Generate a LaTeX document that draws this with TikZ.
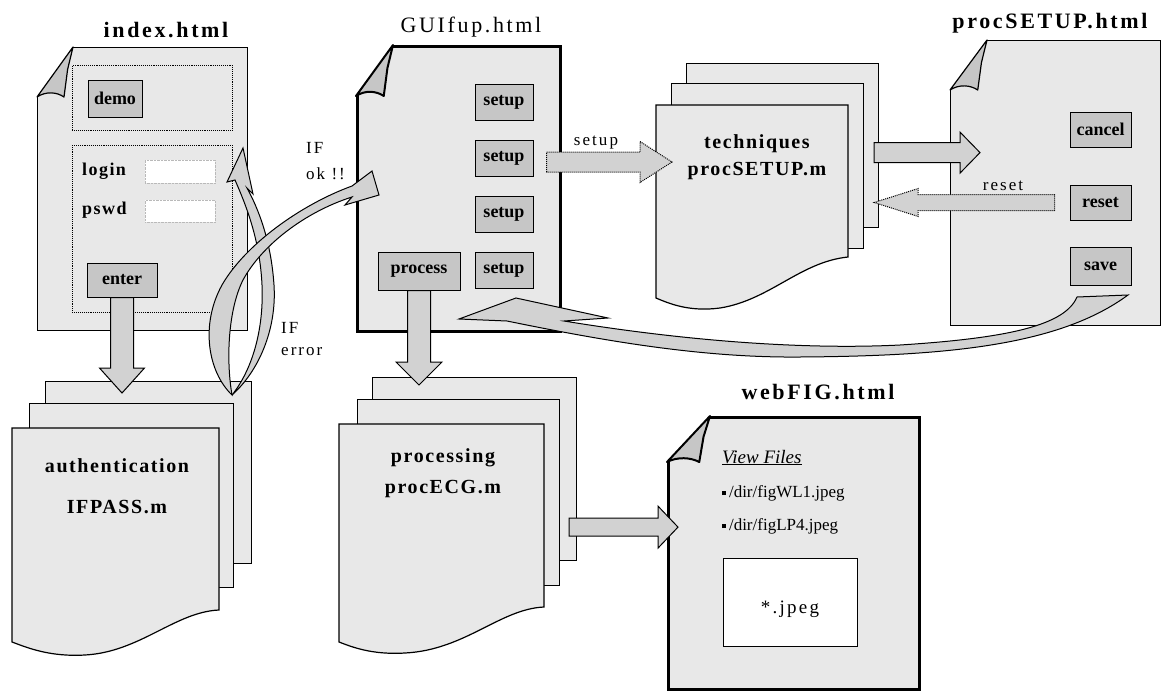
\documentclass[tikz,border=0pt]{standalone}
\usepackage{fontspec}
\setmainfont{Liberation Serif}
\newfontfamily\spacedfont[LetterSpace=12]{Liberation Serif}
\newfontfamily\wordfont[LetterSpace=8]{Liberation Serif}
\usetikzlibrary{calc}
\tikzset{
  sheet/.style={draw,line width=1.2pt,fill=gray!18},
  htmlpage/.style={sheet,rectangle,inner sep=0pt,anchor=north west},
  heavypage/.style={htmlpage,line width=3pt},
  fold/.style={draw,line width=1.2pt,fill=gray!45,line join=round},
  btn/.style={draw,line width=1pt,fill=gray!45,inner sep=0pt,font=\bfseries\fontsize{18}{20}\selectfont,minimum width=58pt,minimum height=36pt},
  field/.style={draw=gray!55,densely dotted,fill=white,inner sep=0pt,anchor=north west},
  zone/.style={draw,densely dotted,line width=0.9pt,inner sep=0pt,anchor=north west},
  fieldname/.style={font=\wordfont\bfseries\fontsize{18}{20}\selectfont,inner sep=0pt,anchor=base west},
  pagetitle/.style={font=\spacedfont\bfseries\fontsize{22}{26}\selectfont,inner sep=0pt,anchor=base},
  doctext/.style={font=\wordfont\bfseries\fontsize{20}{24}\selectfont,inner sep=0pt,anchor=base},
  lbl/.style={font=\spacedfont\fontsize{17}{24}\selectfont,inner sep=0pt,align=left},
  filetext/.style={font=\fontsize{17}{20}\selectfont,inner sep=0pt,anchor=base west},
  blk/.style={draw,line width=1pt,fill=gray!35,line join=miter},
  dblk/.style={blk,densely dotted},
}
% block arrow between two points: [style]{from}{to}{shaft half}{head half}{head length}
\newcommand\blockarrow[6][]{%
  \filldraw[blk,#1] let \p1=#2, \p2=#3,
      \n1={atan2(\y2-\y1,\x2-\x1)}, \n2={veclen(\x2-\x1,\y2-\y1)} in
    ($(\p1)+(\n1+90:#4)$) -- ++(\n1:{\n2-#6}) -- ++(\n1+90:{#5-#4}) -- (\p2)
    -- ($(\p1)+(\n1:{\n2-#6})+(\n1-90:#5)$) -- ++(\n1+90:{#5-#4})
    -- ($(\p1)+(\n1-90:#4)$) -- cycle;}
% dog-ear on the top left corner of a page node: [style]{node}{dx}{dy}
\newcommand\pagefold[4][]{%
  \fill[white] ($(#2.north west)+(-4,-4)$) -- ($(#2.north west)+(#3,-4)$)
    -- ($(#2.north west)+(#3,0)$) -- ($(#2.north west)+(0,#4)$)
    -- ($(#2.north west)+(-4,#4)$) -- cycle;
  \filldraw[fold,#1] ($(#2.north west)+(#3,0)$) -- ($(#2.north west)+(0,#4)$)
    .. controls +(0.25*#3,-0.12*#4) and +(-0.2*#3,-0.1*#4) .. ($(#2.north west)+(0.75*#3,#4)$)
    -- ($(#2.north west)+(0.85*#3,0.45*#4)$) -- cycle;}

\begin{document}
\begin{tikzpicture}[x=1pt,y=-1pt]
  \useasboundingbox (0,0) rectangle (1163,691);

  % titles
  \node[pagetitle] (tindex) at (166,37) {index.html};
  \node[pagetitle,font=\spacedfont\fontsize{22}{26}\selectfont] (tgui) at (471,32) {GUIfup.html};
  \node[pagetitle] (tsetup) at (1050,28) {procSETUP.html};
  \node[pagetitle] (tfig) at (818,399) {webFIG.html};

  % index.html
  \node[htmlpage,minimum width=210pt,minimum height=283pt] (index) at (37,47) {};
  \pagefold{index}{36}{50}
  \node[zone,minimum width=160pt,minimum height=65pt] (zdemo) at (72,65) {};
  \node[zone,minimum width=160pt,minimum height=167pt] (zlogin) at (72,145) {};
  \node[btn,minimum width=54pt,minimum height=37pt] (demo) at (115,98.5) {demo};
  \node[fieldname] (login) at (82,175) {login};
  \node[fieldname] (pswd) at (82,214) {pswd};
  \node[field,minimum width=70pt,minimum height=23pt] (loginbox) at (145,160) {};
  \node[field,minimum width=70pt,minimum height=22pt] (pswdbox) at (145,200) {};
  \node[btn,minimum width=70pt,minimum height=34pt] (enter) at (122,280) {enter};

  % GUIfup.html
  \node[heavypage,minimum width=203pt,minimum height=285pt] (gui) at (356,45) {};
  \pagefold[line width=2pt]{gui}{37}{51}
  \foreach \i in {1,...,4}
    \node[btn] (setup\i) at (504,{102+56*(\i-1)}) {setup};
  \node[btn,minimum width=82pt,minimum height=38pt] (process) at (419,271) {process};

  % procSETUP.html
  \node[htmlpage,minimum width=210pt,minimum height=285pt] (setuppage) at (950,40) {};
  \pagefold{setuppage}{37}{50}
  \node[btn,minimum width=61pt,minimum height=35pt] (cancel) at (1100.5,129.5) {cancel};
  \node[btn,minimum width=61pt,minimum height=35pt] (reset) at (1100.5,202.5) {reset};
  \node[btn,minimum width=61pt,minimum height=38pt] (save) at (1100.5,266) {save};

  % webFIG.html
  \node[heavypage,minimum width=251pt,minimum height=272pt] (webfig) at (667,416) {};
  \pagefold[line width=2pt]{webfig}{43}{46}
  \node[filetext,font=\itshape\fontsize{19}{22}\selectfont] (viewf) at (722,463) {\underline{View Files}};
  \node[filetext] (fig1) at (722,497) {\rule[2pt]{4pt}{4pt}\,/dir/figWL1.jpeg};
  \node[filetext] (fig2) at (722,530) {\rule[2pt]{4pt}{4pt}\,/dir/figLP4.jpeg};
  \node[draw,line width=1.2pt,fill=white,inner sep=0pt,anchor=north west,
        minimum width=134pt,minimum height=88pt] (imgbox) at (723,558) {};
  \node[font=\spacedfont\fontsize{19}{22}\selectfont,inner sep=0pt,anchor=base] (jpeg) at (790,613) {*.jpeg};

  % authentication stack
  \node[htmlpage,minimum width=206pt,minimum height=182pt] (authback) at (45,381) {};
  \node[htmlpage,minimum width=204pt,minimum height=184pt] (authmid) at (29,403) {};
  \filldraw[sheet] (12,428) -- (219,428) -- (219,610)
    .. controls (175,612) and (140,652) .. (85,655)
    .. controls (50,657) and (28,648) .. (12,642) -- cycle;
  \node[doctext] (auth) at (117,472) {authentication};
  \node[doctext] (authfile) at (117,513) {IFPASS.m};

  % processing stack
  \node[htmlpage,minimum width=204pt,minimum height=183pt] (procback) at (372,377) {};
  \node[htmlpage,minimum width=202pt,minimum height=186pt] (procmid) at (357,399) {};
  \filldraw[sheet] (339,424) -- (544,424) -- (544,607)
    .. controls (500,609) and (465,650) .. (405,653)
    .. controls (372,655) and (352,647) .. (339,642) -- cycle;
  \node[doctext] (proc) at (443,462) {processing};
  \node[doctext] (procfile) at (443,493) {procECG.m};

  % techniques stack
  \node[htmlpage,minimum width=192pt,minimum height=164pt] (techback) at (686,63) {};
  \node[htmlpage,minimum width=192pt,minimum height=165pt] (techmid) at (671,83) {};
  \filldraw[sheet] (656,105) -- (848,105) -- (848,257)
    .. controls (800,262) and (770,300) .. (720,308)
    .. controls (690,312) and (670,304) .. (656,298) -- cycle;
  \node[doctext] (tech) at (757,148) {techniques};
  \node[doctext] (techfile) at (757,175) {procSETUP.m};

  % straight block arrows
  \blockarrow{(enter.south)}{($(enter.south |- authback.north)+(0,12)$)}{11.5pt}{22.5pt}{25pt}
  \blockarrow{(process.south)}{($(process.south |- procback.north)+(0,8)$)}{11.5pt}{23pt}{23pt}
  \blockarrow[dblk]{($(setup2.east)+(13,4)$)}{($(setup2.east -| techmid.west)+(1,4)$)}{10pt}{20.5pt}{32pt}
  \blockarrow{($(techback.east)+(-5,7)$)}{($(techback.east -| setuppage.west)+(30,7)$)}{10pt}{20.5pt}{20pt}
  \blockarrow[dblk]{($(reset.west)+(-15,0)$)}{($(reset.west -| techback.east)+(-5,0)$)}{8pt}{14pt}{44pt}
  \blockarrow{($(procback.east)+(-8,58)$)}{($(procback.east -| webfig.west)+(11,58)$)}{9pt}{21pt}{20pt}

  % curved arrows: IF error back to login, IF ok on to GUIfup
  \filldraw[blk] (232,395) .. controls (258,372) and (277,330) .. (274,285)
    .. controls (271,240) and (258,208) .. (247,188) -- (253,194) -- (243,148) -- (227,182) -- (235,180)
    .. controls (246,205) and (260,240) .. (262,285)
    .. controls (264,330) and (252,370) .. (232,395) -- cycle;
  \filldraw[blk] (232,395) .. controls (208,372) and (200,325) .. (222,285)
    .. controls (245,245) and (300,205) .. (352,186) -- (372,171) -- (379,195) -- (345,205) -- (352,197)
    .. controls (305,212) and (262,245) .. (243,280)
    .. controls (228,310) and (226,360) .. (232,395) -- cycle;
  % save returns to GUIfup
  \filldraw[blk] (1077,297) .. controls (1065,325) and (1010,338) .. (900,345)
    .. controls (800,350) and (680,340) .. (564,321) -- (608,318) -- (516,298) -- (459,319) -- (507,321)
    .. controls (600,340) and (700,358) .. (800,357)
    .. controls (950,356) and (1060,345) .. (1128,295) -- cycle;

  % arrow labels
  \node[lbl,font=\spacedfont\fontsize{17}{26}\selectfont,anchor=north west] (ifok) at (306,142) {IF\\ok !!};
  \node[lbl,font=\spacedfont\fontsize{17}{22}\selectfont,anchor=north west] (iferr) at (281,322) {IF\\error};
  \node[lbl,anchor=base] (lsetup) at (596,145) {setup};
  \node[lbl,anchor=base] (lreset) at (1003,190) {reset};
\end{tikzpicture}
\end{document}
